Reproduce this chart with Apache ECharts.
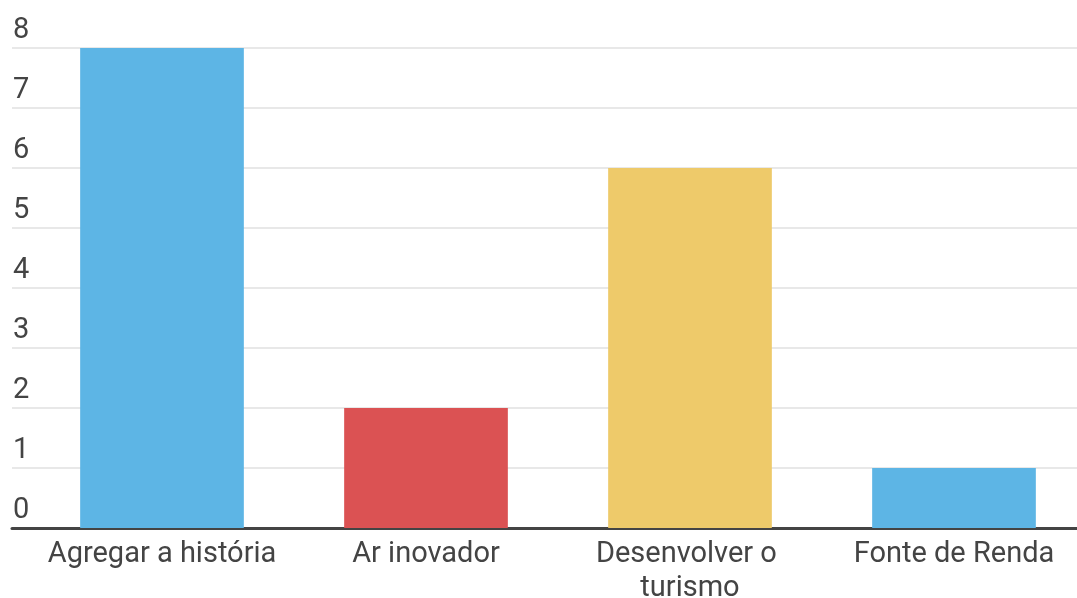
<!DOCTYPE html>
<html><head><meta charset="utf-8">
<script src="https://cdn.jsdelivr.net/npm/echarts@6/dist/echarts.min.js"></script>
<style>html,body{margin:0;padding:0;background:#fff}#c{width:1077px;height:598px}</style>
</head><body><div id="c"></div>
<script>
const categories = ['Agregar a história', 'Ar inovador', 'Desenvolver o turismo', 'Fonte de Renda'];
const values = [8, 2, 6, 1];
const barColors = ['#5db5e5', '#db5253', '#eeca6a', '#5db5e5'];
const yMin = 0, yMax = 8, yStep = 1;

const chart = echarts.init(document.getElementById('c'));
const font = 'Roboto';
chart.setOption({
  animation: false,
  grid: [
    {left: 12, right: 0, top: 48, bottom: 70, containLabel: false, outerBoundsMode: 'none'},
    {left: 30, right: -9, top: 48, bottom: 70, containLabel: false, outerBoundsMode: 'none'}
  ],
  xAxis: [
    {gridIndex: 0, type: 'category', data: categories, axisLine: {lineStyle: {color: '#444', width: 3}},
     axisTick: {show: false}, axisLabel: {show: false}, splitLine: {show: false}},
    {gridIndex: 1, type: 'category', data: categories, axisLine: {show: false}, axisTick: {show: false},
     axisLabel: {color: '#444', fontFamily: font, fontSize: 29, lineHeight: 34, margin: 10, interval: 0,
       width: 250, overflow: 'break'}}
  ],
  yAxis: [
    {gridIndex: 0, type: 'value', min: yMin, max: yMax, interval: yStep,
     axisLine: {show: false}, axisTick: {show: false},
     splitLine: {lineStyle: {color: '#e0e0e0', width: 1.5}},
     axisLabel: {inside: true, align: 'left', verticalAlign: 'bottom', margin: 1, padding: [0,0,1,0],
       color: '#444', fontFamily: font, fontSize: 29, lineHeight: 33}},
    {gridIndex: 1, type: 'value', min: yMin, max: yMax, interval: yStep, show: false}
  ],
  series: [{
    type: 'bar', xAxisIndex: 1, yAxisIndex: 1, barWidth: '62%',
    data: values.map((v, i) => ({value: v, itemStyle: {color: barColors[i]}}))
  }]
});
</script></body></html>
